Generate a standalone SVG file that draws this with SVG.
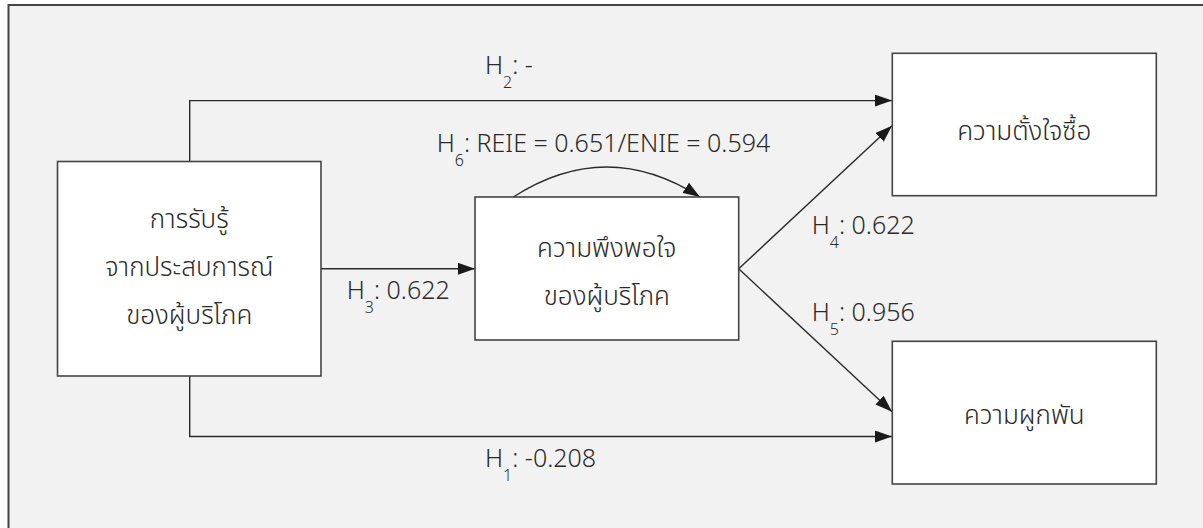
<svg xmlns="http://www.w3.org/2000/svg" width="1203" height="528" viewBox="0 0 1203 528">
  <style>
    .frame { fill: #f2f2f2; stroke: #444444; stroke-width: 2; }
    .box { fill: #ffffff; stroke: #444444; stroke-width: 1.6; }
    .edge { fill: none; stroke: #2a2a2a; stroke-width: 1.4; }
    .lbl { font-family: "Noto Sans", "Noto Sans Thai", "DejaVu Sans", sans-serif; font-size: 25px; fill: #2a2a2a; font-weight: 300; }
    .node { font-family: "Noto Sans", "Noto Sans Thai", "DejaVu Sans", sans-serif; font-size: 26px; fill: #2a2a2a; text-anchor: middle; font-weight: 300; }
    .sub { font-size: 16px; }
  </style>
  <defs>
    <marker id="arrow" viewBox="0 0 17 12" refX="17" refY="6" markerWidth="17" markerHeight="12" markerUnits="userSpaceOnUse" orient="auto">
      <path d="M0,0 L17,6 L0,12 Z" fill="#1a1a1a"/>
    </marker>
  </defs>

  <rect x="0" y="0" width="1203" height="528" fill="#ffffff"/>
  <rect class="frame" x="8.5" y="5" width="1210" height="540"/>

  <!-- connectors -->
  <g id="connectors">
    <path class="edge" d="M189.7,161.5 V100.6 H892" marker-end="url(#arrow)"/>
    <path class="edge" d="M189.7,376 V436.5 H892" marker-end="url(#arrow)"/>
    <path class="edge" d="M321,268.8 H475" marker-end="url(#arrow)"/>
    <path class="edge" d="M738.7,268.8 L892,125.7" marker-end="url(#arrow)"/>
    <path class="edge" d="M738.7,268.8 L892,411.7" marker-end="url(#arrow)"/>
    <path class="edge" d="M513.3,197 Q606.7,137 700,197" marker-end="url(#arrow)"/>
  </g>

  <!-- path labels -->
  <g id="labels">
    <text class="lbl" x="485" y="74">H<tspan class="sub" dy="14">2</tspan><tspan dy="-14">: -</tspan></text>
    <text class="lbl" x="436.7" y="152">H<tspan class="sub" dy="14">6</tspan><tspan dy="-14">: REIE = 0.651/ENIE = 0.594</tspan></text>
    <text class="lbl" x="346.7" y="299.3">H<tspan class="sub" dy="14">3</tspan><tspan dy="-14">: 0.622</tspan></text>
    <text class="lbl" x="811.7" y="234">H<tspan class="sub" dy="14">4</tspan><tspan dy="-14">: 0.622</tspan></text>
    <text class="lbl" x="811.7" y="321">H<tspan class="sub" dy="14">5</tspan><tspan dy="-14">: 0.956</tspan></text>
    <text class="lbl" x="485" y="466.7">H<tspan class="sub" dy="14">1</tspan><tspan dy="-14">: -0.208</tspan></text>
  </g>

  <!-- nodes -->
  <g id="experience">
    <rect class="box" x="57.5" y="161.5" width="263.5" height="214.5"/>
    <text class="node" x="189.2" y="228">การรับรู้</text>
    <text class="node" x="189.2" y="276">จากประสบการณ์</text>
    <text class="node" x="189.2" y="324">ของผู้บริโภค</text>
  </g>
  <g id="satisfaction">
    <rect class="box" x="475" y="197" width="263.7" height="143"/>
    <text class="node" x="606.8" y="256.7">ความพึงพอใจ</text>
    <text class="node" x="606.8" y="305">ของผู้บริโภค</text>
  </g>
  <g id="intention">
    <rect class="box" x="892.3" y="53.3" width="264" height="142.4"/>
    <text class="node" x="1024.3" y="140">ความตั้งใจซื้อ</text>
  </g>
  <g id="engagement">
    <rect class="box" x="892.3" y="341.3" width="264" height="142.7"/>
    <text class="node" x="1024.3" y="424">ความผูกพัน</text>
  </g>
</svg>
